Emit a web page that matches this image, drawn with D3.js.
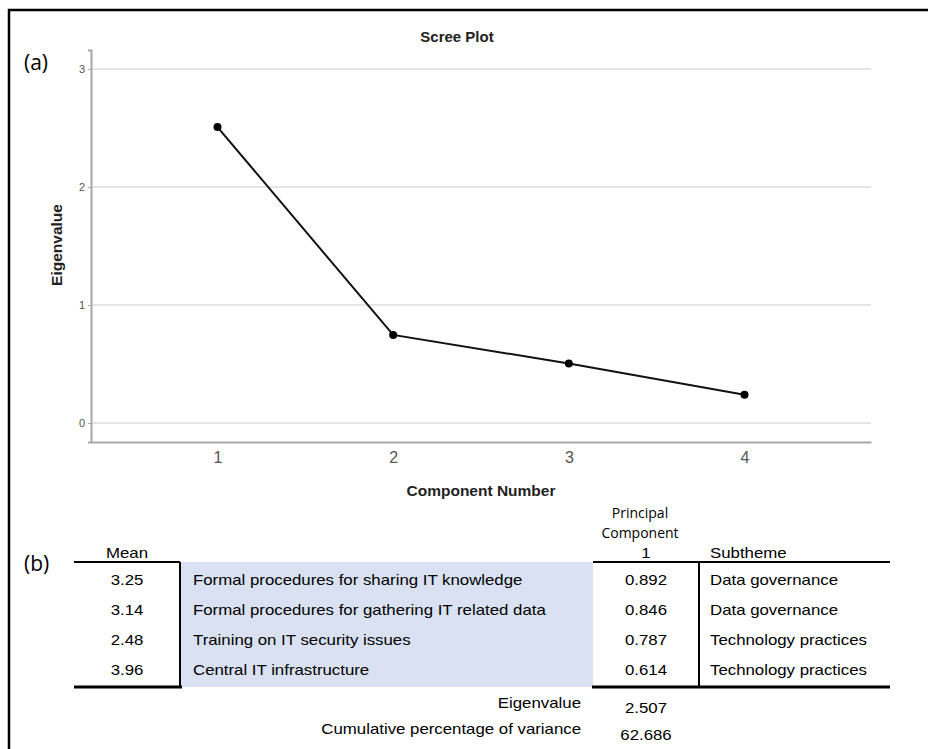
<!DOCTYPE html>
<html>
<head>
<meta charset="utf-8">
<script src="https://cdn.jsdelivr.net/npm/d3@7"></script>
<style>
  body { margin: 0; background: #fff; }
  svg { display: block; }
</style>
</head>
<body>
<div id="canvas"></div>
<script>
// scree plot
const components = [1, 2, 3, 4];
const eigenvalues = [2.507, 0.747, 0.505, 0.241];
const yTicks = [0, 1, 2, 3];

// table (b)
const means = ['3.25', '3.14', '2.48', '3.96'];
const items = [
  'Formal procedures for sharing IT knowledge',
  'Formal procedures for gathering IT related data',
  'Training on IT security issues',
  'Central IT infrastructure'
];
const loadings = ['0.892', '0.846', '0.787', '0.614'];
const subthemes = ['Data governance', 'Data governance', 'Technology practices', 'Technology practices'];
const footLabels = ['Eigenvalue', 'Cumulative percentage of variance'];
const footValues = ['2.507', '62.686'];

const W = 928, H = 749;
const svg = d3.select('#canvas').append('svg')
  .attr('width', W).attr('height', H)
  .style('font-family', 'Arial, "Liberation Sans", sans-serif');

// outer frame (only left and top visible)
svg.append('path')
  .attr('d', `M9,${H} L9,10 L${W},10`)
  .attr('fill', 'none').attr('stroke', '#000').attr('stroke-width', 2.5);

svg.append('text').text('(a)')
  .attr('x', 24).attr('y', 70)
  .style('font-family', '"Open Sans", "Noto Sans", sans-serif')
  .style('font-size', '21px');

const x = d3.scaleLinear().domain([0.28, 4.72]).range([91, 871]);
const y = d3.scaleLinear().domain([-0.16, 3.16]).range([442, 50]);

// gridlines
svg.append('g')
  .selectAll('line')
  .data(yTicks)
  .join('line')
  .attr('x1', x.range()[0]).attr('x2', x.range()[1])
  .attr('y1', (d) => y(d)).attr('y2', (d) => y(d))
  .attr('stroke', '#dcdcdc').attr('stroke-width', 1.5);

// y axis
const yAxis = svg.append('g')
  .attr('transform', `translate(${x.range()[0]},0)`)
  .call(d3.axisLeft(y).tickValues(yTicks).tickFormat(d3.format('d')).tickSize(3).tickPadding(3));
yAxis.select('.domain').attr('stroke', '#a8a8a8').attr('stroke-width', 2);
yAxis.selectAll('.tick line').attr('stroke', '#a8a8a8');
yAxis.selectAll('.tick text')
  .attr('fill', '#555').style('font-size', '11px').style('font-family', 'Arial, sans-serif');

// x axis
const xAxis = svg.append('g')
  .attr('transform', `translate(0,${y.range()[0]})`)
  .call(d3.axisBottom(x).tickValues(components).tickFormat(d3.format('d')).tickSize(0).tickPadding(10));
xAxis.select('.domain').attr('stroke', '#a8a8a8').attr('stroke-width', 2);
xAxis.selectAll('.tick text')
  .attr('fill', '#555').style('font-size', '16px').style('font-family', 'Arial, sans-serif');

// titles
svg.append('text').text('Scree Plot')
  .attr('x', 457).attr('y', 42)
  .attr('text-anchor', 'middle')
  .style('font-weight', 'bold').style('font-size', '15px').attr('fill', '#222');

svg.append('text').text('Component Number')
  .attr('x', 481).attr('y', 496)
  .attr('text-anchor', 'middle')
  .style('font-weight', 'bold').style('font-size', '15.5px').attr('fill', '#222');

svg.append('text').text('Eigenvalue')
  .attr('transform', 'translate(62,245) rotate(-90)')
  .attr('text-anchor', 'middle')
  .style('font-weight', 'bold').style('font-size', '15.5px').attr('fill', '#222');

// line + points
const pts = components.map((c, i) => [c, eigenvalues[i]]);
svg.append('path')
  .datum(pts)
  .attr('d', d3.line().x((d) => x(d[0])).y((d) => y(d[1])))
  .attr('fill', 'none').attr('stroke', '#111').attr('stroke-width', 2);

svg.append('g')
  .selectAll('circle')
  .data(pts)
  .join('circle')
  .attr('cx', (d) => x(d[0])).attr('cy', (d) => y(d[1]))
  .attr('r', 4).attr('fill', '#000');

// ---- table (b) ----
// table text in the source is a bit wider than plain Arial, stretch it
const sx = 1.16;
const place = (px, py) => `translate(${px},${py}) scale(${sx},1)`;

const cols = { mean: [74, 180], item: [180, 593], load: [593, 699], sub: [699, 890] };
const tTop = 562;
const rowH = 30;
const row = d3.scaleBand().domain(d3.range(items.length)).range([tTop + 3, tTop + 3 + rowH * items.length]);
const tBottom = 687;

svg.append('text').text('(b)')
  .attr('x', 24).attr('y', 571)
  .style('font-family', '"Open Sans", "Noto Sans", sans-serif')
  .style('font-size', '21px');

// blue item block
svg.append('rect')
  .attr('x', cols.item[0]).attr('y', tTop)
  .attr('width', cols.item[1] - cols.item[0]).attr('height', tBottom - tTop)
  .attr('fill', '#d9e1f2');

// header
svg.append('text').text('Mean')
  .attr('transform', place((cols.mean[0] + cols.mean[1]) / 2, 558))
  .attr('text-anchor', 'middle').style('font-size', '14.5px');

const hdr = svg.append('g').style('font-family', '"Open Sans", "Noto Sans", sans-serif').style('font-size', '14px');
hdr.append('text').text('Principal').attr('x', 640).attr('y', 518).attr('text-anchor', 'middle');
hdr.append('text').text('Component').attr('x', 640).attr('y', 538).attr('text-anchor', 'middle');
svg.append('text').text('1')
  .attr('transform', place(646, 558)).attr('text-anchor', 'middle').style('font-size', '14.5px');
svg.append('text').text('Subtheme')
  .attr('transform', place(710, 558)).style('font-size', '14.5px');

// rules
const rules = svg.append('g').attr('stroke', '#000');
rules.append('line').attr('x1', cols.mean[0]).attr('x2', cols.mean[1]).attr('y1', tTop).attr('y2', tTop).attr('stroke-width', 2);
rules.append('line').attr('x1', cols.load[0]).attr('x2', cols.sub[1]).attr('y1', tTop).attr('y2', tTop).attr('stroke-width', 2);
rules.append('line').attr('x1', cols.mean[0]).attr('x2', cols.mean[1] + 2).attr('y1', tBottom).attr('y2', tBottom).attr('stroke-width', 3);
rules.append('line').attr('x1', cols.load[0] - 1).attr('x2', cols.sub[1]).attr('y1', tBottom).attr('y2', tBottom).attr('stroke-width', 3);
rules.append('line').attr('x1', cols.item[0]).attr('x2', cols.item[0]).attr('y1', tTop).attr('y2', tBottom).attr('stroke-width', 2);
rules.append('line').attr('x1', cols.sub[0]).attr('x2', cols.sub[0]).attr('y1', tTop).attr('y2', tBottom).attr('stroke-width', 2);

// body rows
const body = svg.append('g').style('font-size', '14.5px').attr('fill', '#000');
const cy = (i) => row(i) + row.bandwidth() / 2 + 5;
body.selectAll('.mean').data(means).join('text').attr('class', 'mean')
  .attr('transform', (d, i) => place((cols.mean[0] + cols.mean[1]) / 2, cy(i)))
  .attr('text-anchor', 'middle').text((d) => d);
body.selectAll('.item').data(items).join('text').attr('class', 'item')
  .attr('transform', (d, i) => place(cols.item[0] + 13, cy(i))).text((d) => d);
body.selectAll('.load').data(loadings).join('text').attr('class', 'load')
  .attr('transform', (d, i) => place(646, cy(i)))
  .attr('text-anchor', 'middle').text((d) => d);
body.selectAll('.sub').data(subthemes).join('text').attr('class', 'sub')
  .attr('transform', (d, i) => place(cols.sub[0] + 11, cy(i))).text((d) => d);

// footer
const foot = svg.append('g').style('font-size', '14.5px');
foot.selectAll('.fl').data(footLabels).join('text').attr('class', 'fl')
  .attr('transform', (d, i) => place(581, 708 + i * 26))
  .attr('text-anchor', 'end').text((d) => d);
foot.selectAll('.fv').data(footValues).join('text').attr('class', 'fv')
  .attr('transform', (d, i) => place(646, 713 + i * 27))
  .attr('text-anchor', 'middle').text((d) => d);
</script>
</body>
</html>
